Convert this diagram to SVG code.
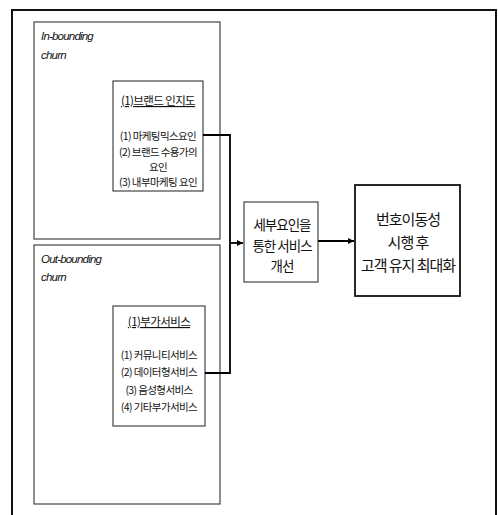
<svg xmlns="http://www.w3.org/2000/svg" width="498" height="515" viewBox="0 0 498 515">
<defs>
<style>
.frame{fill:none;stroke:#111;stroke-width:2}
.box{fill:#fff;stroke:#444;stroke-width:1.2}
.bold{fill:#fff;stroke:#111;stroke-width:1.8}
.conn{fill:none;stroke:#000;stroke-width:1.8}
.lab{font-family:"Liberation Sans",Arial,sans-serif;font-style:italic;font-size:11.5px;fill:#111;letter-spacing:-0.8px}
.t{font-family:"Noto Sans CJK KR","Noto Sans",sans-serif;font-size:10.5px;fill:#111;text-anchor:middle;letter-spacing:-0.6px}
.h{font-family:"Noto Sans CJK KR","Noto Sans",sans-serif;font-size:11.5px;fill:#111;text-anchor:middle;text-decoration:underline;letter-spacing:-0.6px}
.m{font-family:"Noto Sans CJK KR","Noto Sans",sans-serif;font-size:13.5px;fill:#111;text-anchor:middle;letter-spacing:-1px}
.r{font-family:"Noto Sans CJK KR","Noto Sans",sans-serif;font-size:15px;fill:#111;text-anchor:middle;letter-spacing:-1px}
</style>
<marker id="arr" viewBox="0 0 10 10" refX="10" refY="5" markerWidth="6" markerHeight="6" orient="auto" markerUnits="userSpaceOnUse">
<path d="M0,0 L10,5 L0,10 z" fill="#000"/>
</marker>
</defs>
<rect width="498" height="515" fill="#fff"/>
<path class="frame" d="M12,515 V10 H496 V515"/>
<g id="inbound">
<rect class="box" x="34" y="22" width="186" height="217"/>
<text class="lab" x="41" y="40">In-bounding</text>
<text class="lab" x="41" y="59">churn</text>
</g>
<g id="brand">
<rect class="box" x="113" y="81" width="90" height="110"/>
<text class="h" x="158" y="105">(1)브랜드 인지도</text>
<text class="t" x="158" y="140">(1) 마케팅믹스요인</text>
<text class="t" x="158" y="156">(2) 브랜드 수용가의</text>
<text class="t" x="158" y="171">요인</text>
<text class="t" x="158" y="186">(3) 내부마케팅 요인</text>
</g>
<g id="outbound">
<rect class="box" x="34" y="245" width="186" height="259"/>
<text class="lab" x="41" y="263">Out-bounding</text>
<text class="lab" x="41" y="281">churn</text>
</g>
<g id="addon">
<rect class="box" x="113" y="306" width="92" height="120"/>
<text class="h" x="159" y="326">(1)부가서비스</text>
<text class="t" x="159" y="359">(1)  커뮤니티서비스</text>
<text class="t" x="159" y="376">(2)  데이터형서비스</text>
<text class="t" x="159" y="394">(3)  음성형서비스</text>
<text class="t" x="159" y="411">(4)  기타부가서비스</text>
</g>
<g id="improve">
<rect class="box" x="244" y="202" width="74" height="80"/>
<text class="m" x="282" y="230">세부요인을</text>
<text class="m" x="282" y="251">통한 서비스</text>
<text class="m" x="282" y="271">개선</text>
</g>
<g id="result">
<rect class="bold" x="355" y="185" width="105" height="111"/>
<text class="r" x="408" y="225">번호이동성</text>
<text class="r" x="408" y="248">시행 후</text>
<text class="r" x="408" y="271">고객 유지 최대화</text>
</g>
<g id="connectors">
<path class="conn" d="M203,135 H230 V373 H205"/>
<path class="conn" d="M230,243 H243" marker-end="url(#arr)"/>
<path class="conn" d="M318,241 H354" marker-end="url(#arr)"/>
</g>
</svg>
